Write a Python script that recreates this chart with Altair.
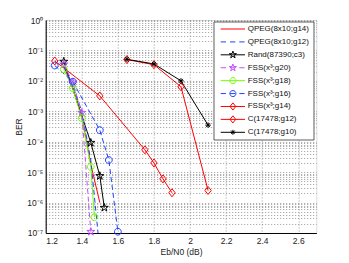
import math
import altair as alt
import pandas as pd

# ---------------- data ----------------
names = ["QPEG(8x10;g14)", "QPEG(8x10;g12)", "Rand(87390;c3)", "FSS(x³;g20)",
         "FSS(x³;g18)", "FSS(x³;g16)", "FSS(x³;g14)", "C(17478;g12)", "C(17478;g10)"]
colors = ["#ff0000", "#2040ff", "#000000", "#c050ff", "#70ff00", "#2040ff",
          "#ff0000", "#ff0000", "#000000"]
dashed = [False, True, False, True, False, True, False, False, False]
markers = [None, None, "star", "star", "circle", "circle", "diamond", "diamond", "asterisk"]

qpeg14_x = [1.30, 1.35, 1.40, 1.45, 1.50]
qpeg14_y = [3.0e-2, 6.0e-3, 6.5e-4, 1.8e-5, 1.0e-6]
qpeg12_x = [1.30, 1.35, 1.40, 1.45, 1.49]
qpeg12_y = [3.0e-2, 7.0e-3, 1.0e-3, 2.5e-5, 1.0e-7]
rand_x = [1.30, 1.45, 1.50, 1.525]
rand_y = [4.3e-2, 9.3e-5, 7.5e-6, 6.8e-7]
g20_x = [1.30, 1.35, 1.40, 1.45]
g20_y = [3.5e-2, 9.0e-3, 9.0e-4, 1.1e-7]
g18_x = [1.30, 1.35, 1.40, 1.45, 1.47]
g18_y = [2.4e-2, 5.7e-3, 5.9e-4, 1.5e-5, 3.3e-7]
g16_x = [1.25, 1.35, 1.50, 1.55, 1.60]
g16_y = [3.2e-2, 9.4e-3, 2.4e-4, 2.5e-5, 1.1e-7]
g14_x = [1.25, 1.50, 1.75, 1.80, 1.85, 1.90]
g14_y = [4.5e-2, 3.2e-3, 5.4e-5, 2.0e-5, 6.0e-6, 2.1e-6]
c12_x = [1.65, 1.80, 1.95, 2.10]
c12_y = [5.0e-2, 3.4e-2, 6.4e-3, 2.5e-6]
c10_x = [1.65, 1.80, 1.95, 2.10]
c10_y = [5.1e-2, 3.6e-2, 1.0e-2, 3.5e-4]

series_x = [qpeg14_x, qpeg12_x, rand_x, g20_x, g18_x, g16_x, g14_x, c12_x, c10_x]
series_y = [qpeg14_y, qpeg12_y, rand_y, g20_y, g18_y, g16_y, g14_y, c12_y, c10_y]

x_ticks = [1.2, 1.4, 1.6, 1.8, 2.0, 2.2, 2.4, 2.6]
y_decades = [1e-7, 1e-6, 1e-5, 1e-4, 1e-3, 1e-2, 1e-1, 1.0]
y_tick_labels = ["10⁻⁷", "10⁻⁶", "10⁻⁵", "10⁻⁴", "10⁻³", "10⁻²", "10⁻¹", "10⁰"]

# ---------------- shapes ----------------
def circle_path(r):
    return f"M{r},0A{r},{r} 0 1,1 {-r},0A{r},{r} 0 1,1 {r},0Z"

def diamond_path(h, w):
    return f"M0,{-h}L{w},0L0,{h}L{-w},0Z"

def star_path(R):
    pts = []
    for i in range(10):
        a = -math.pi / 2 + i * math.pi / 5
        rr = R if i % 2 == 0 else R * 0.382
        pts.append(f"{rr*math.cos(a):.3f},{rr*math.sin(a):.3f}")
    return "M" + "L".join(pts) + "Z"

def asterisk_path(R):
    d = R * 0.707
    return (f"M0,{-R}L0,{R}M{-R},0L{R},0"
            f"M{-d},{-d}L{d},{d}M{-d},{d}L{d},{-d}")

plot_shape = {"circle": circle_path(1), "diamond": diamond_path(1, 0.8),
              "star": star_path(1), "asterisk": asterisk_path(1)}
plot_size = {"circle": 46, "diamond": 64, "star": 70, "asterisk": 30}

# ---------------- tables ----------------
rows = []
for i, nm in enumerate(names):
    for xv, yv in zip(series_x[i], series_y[i]):
        rows.append({"series": nm, "idx": i, "x": xv, "y": yv,
                     "color": colors[i], "dash": dashed[i],
                     "shape": plot_shape.get(markers[i], ""),
                     "msize": plot_size.get(markers[i], 0),
                     "hasmark": markers[i] is not None})
df = pd.DataFrame(rows)

leg_df = pd.DataFrame({"series": names, "idx": list(range(len(names))),
                       "color": colors, "dash": dashed,
                       "shape": [plot_shape.get(m, "") for m in markers],
                       "msize": [plot_size.get(m, 0) * 0.8 for m in markers],
                       "hasmark": [m is not None for m in markers]})

y_values = [m * 10.0 ** k for k in range(-7, 0) for m in range(1, 10)] + [1.0]
label_expr = " : ".join(
    f"datum.value == {v!r} ? '{t}'" for v, t in zip(y_decades, y_tick_labels)) + " : ''"

FONT = "Liberation Sans"
GRID = "#9a9a9a"

xenc = alt.X("x:Q", scale=alt.Scale(domain=[1.2, 2.7], nice=False, zero=False),
             axis=alt.Axis(values=x_ticks, format=".1~f", title="Eb/N0 (dB)",
                           grid=True, gridDash=[1, 2], gridColor=GRID,
                           ticks=False, labelPadding=4, labelFontSize=8.5,
                           titleFontSize=8.5, titleFontWeight="normal",
                           titlePadding=2, labelFont=FONT, titleFont=FONT,
                           labelOverlap=False, labelBound=False,
                           domainColor="black", labelColor="#222", titleColor="#222"))
yenc = alt.Y("y:Q", scale=alt.Scale(type="log", domain=[1e-7, 1], nice=False),
             axis=alt.Axis(values=y_values, labelExpr=label_expr, title="BER",
                           grid=True, gridDash=[1, 2], gridColor=GRID,
                           ticks=False, labelPadding=3, labelFontSize=8.5,
                           titleFontSize=8.5, titleFontWeight="normal",
                           titlePadding=3, labelFont=FONT, titleFont=FONT,
                           labelOverlap=False, labelBound=False,
                           domainColor="black", labelColor="#222", titleColor="#222"))

base = alt.Chart(df)
solid = base.transform_filter("!datum.dash").mark_line(strokeWidth=1).encode(
    x=xenc, y=yenc, detail="series:N",
    color=alt.Color("color:N", scale=None))
dash_l = base.transform_filter("datum.dash").mark_line(strokeWidth=1, strokeDash=[5, 3]).encode(
    x=xenc, y=yenc, detail="series:N",
    color=alt.Color("color:N", scale=None))
pts = base.transform_filter("datum.hasmark").mark_point(filled=False, opacity=1, strokeWidth=1).encode(
    x=xenc, y=yenc,
    shape=alt.Shape("shape:N", scale=None),
    color=alt.Color("color:N", scale=None),
    size=alt.Size("msize:Q", scale=None))
main = alt.layer(solid, dash_l, pts)

# ---------------- legend (drawn inside the plot, top-right) ----------------
LX0, LX1, LY0, LY1 = 168.3, 268.3, 2, 120
SYM0, SYM1, SYMC, TXT = 175, 199.3, 187.2, 202
legY = alt.Y("idx:O", scale=alt.Scale(type="point", domain=list(range(len(names))),
                                       range=[9, 112.3], padding=0), axis=None)

lbase = alt.Chart(leg_df)
box = alt.Chart(pd.DataFrame({"k": [0]})).mark_rect(
    fill="white", stroke="#333", strokeWidth=0.8).encode(
    x=alt.value(LX0), x2=alt.value(LX1), y=alt.value(LY0), y2=alt.value(LY1))
lsolid = lbase.transform_filter("!datum.dash").mark_rule(strokeWidth=1).encode(
    x=alt.value(SYM0), x2=alt.value(SYM1), y=legY,
    color=alt.Color("color:N", scale=None))
ldash = lbase.transform_filter("datum.dash").mark_rule(strokeWidth=1, strokeDash=[5.3, 4]).encode(
    x=alt.value(SYM0), x2=alt.value(SYM1), y=legY,
    color=alt.Color("color:N", scale=None))
lpts = lbase.transform_filter("datum.hasmark").mark_point(filled=False, opacity=1, strokeWidth=1).encode(
    x=alt.value(SYMC), y=legY,
    shape=alt.Shape("shape:N", scale=None),
    color=alt.Color("color:N", scale=None),
    size=alt.Size("msize:Q", scale=None))
ltext = lbase.mark_text(align="left", baseline="middle", font=FONT, fontSize=8,
                        color="#111").encode(
    x=alt.value(TXT), y=legY, text="series:N")
legend = alt.layer(box, lsolid, ldash, lpts, ltext)

chart = alt.layer(main, legend).resolve_scale(x="independent", y="independent").properties(
    width=270.6, height=213,
    autosize=alt.AutoSizeParams(type="none"),
    padding={"left": 37.7, "top": 12, "right": 24, "bottom": 28},
).configure_view(stroke="black", strokeWidth=1).configure(background="white")

chart.save("out.html", embed_options={"renderer": "svg", "actions": False})
